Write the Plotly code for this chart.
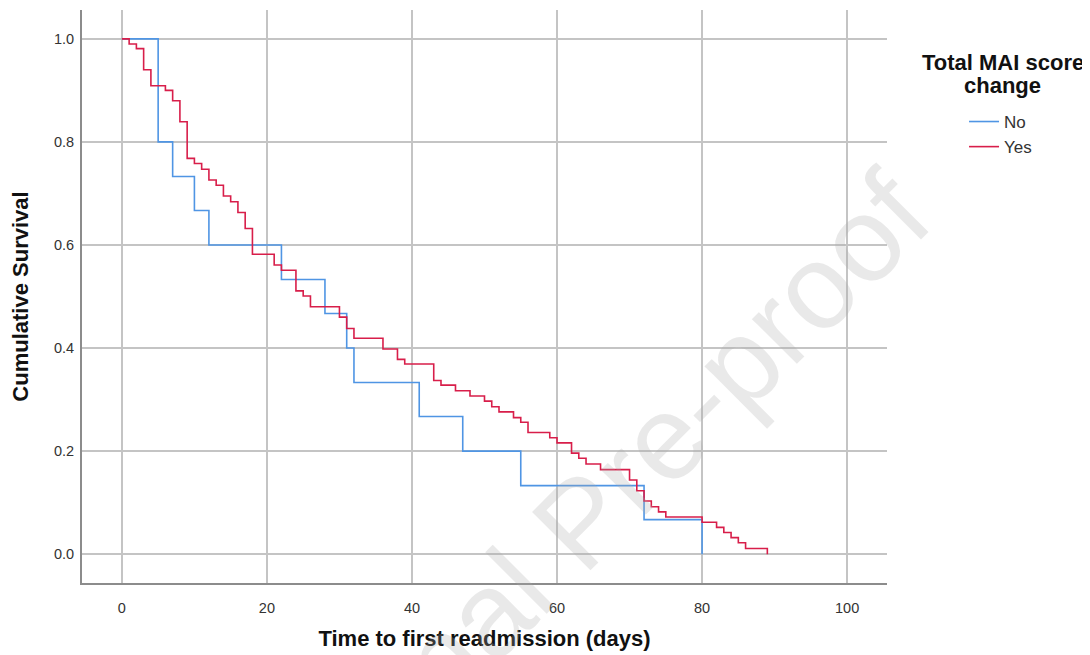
import plotly.graph_objects as go

# Kaplan-Meier step data
no_days = [0, 5, 7, 10, 12, 22, 28, 31, 32, 41, 47, 55, 72, 80]
no_surv = [1.0, 0.800, 0.733, 0.667, 0.600, 0.533, 0.467, 0.400, 0.333, 0.267, 0.200, 0.133, 0.067, 0.0]

yes_days = [0, 1, 2, 3, 4, 6, 7, 8, 9, 10, 11, 12, 13, 14, 15, 16, 17, 18, 21, 22,
            24, 25, 26, 30, 31, 32, 36, 38, 39, 43, 44, 46, 48, 50, 51, 52, 54, 55,
            56, 59, 60, 62, 63, 64, 66, 70, 71, 72, 73, 74, 75, 80, 82, 83, 84, 85, 86, 89]
yes_surv = [1.0, 0.990, 0.981, 0.940, 0.909, 0.900, 0.880, 0.839, 0.768, 0.758, 0.747,
            0.726, 0.716, 0.695, 0.684, 0.663, 0.632, 0.582, 0.561, 0.551,
            0.511, 0.501, 0.480, 0.460, 0.438, 0.419, 0.398, 0.378, 0.369, 0.337,
            0.328, 0.317, 0.307, 0.297, 0.286, 0.276, 0.265, 0.256,
            0.236, 0.226, 0.216, 0.196, 0.186, 0.175, 0.164, 0.144, 0.123, 0.103,
            0.092, 0.082, 0.072, 0.062, 0.052, 0.042, 0.032, 0.022, 0.011, 0.0]

x_ticks = [0, 20, 40, 60, 80, 100]
y_ticks = [0.0, 0.2, 0.4, 0.6, 0.8, 1.0]

legend_title_lines = ["Total MAI score", "change"]

FONT = "Liberation Sans, Arial, sans-serif"
BLUE = "#4f95e4"
RED = "#d81e4a"

fig = go.Figure()
fig.add_trace(go.Scatter(x=no_days, y=no_surv, mode="lines", name="No",
                         line=dict(shape="hv", color=BLUE, width=1.6)))
fig.add_trace(go.Scatter(x=yes_days, y=yes_surv, mode="lines", name="Yes",
                         line=dict(shape="hv", color=RED, width=1.6)))

# page body has an 8px margin, so the figure is sized/offset to compensate
fig.update_layout(
    width=1082, height=647,
    margin=dict(l=74, r=203, t=2, b=72),
    paper_bgcolor="white", plot_bgcolor="white",
    font=dict(family=FONT, color="#333333"),
    showlegend=True,
    legend=dict(x=1.0957, y=0.836, xanchor="left", yanchor="top",
                font=dict(size=17, color="#333333", family=FONT),
                bgcolor="rgba(0,0,0,0)", tracegroupgap=0, itemwidth=30),
    xaxis=dict(range=[-5.5, 105.5], tickvals=x_ticks, showgrid=True,
               gridcolor="#c4c4c4", gridwidth=2, zeroline=False,
               showline=True, linecolor="#8c8c8c", linewidth=2,
               tickfont=dict(size=14.5, color="#333333"), ticks="",
               ticklabelstandoff=11,
               title=dict(text="<b>Time to first readmission (days)</b>",
                          font=dict(size=22, color="#111111"), standoff=15)),
    yaxis=dict(range=[-0.056, 1.056], tickvals=y_ticks, tickformat=".1f",
               showgrid=True, gridcolor="#c4c4c4", gridwidth=2, zeroline=False,
               showline=True, linecolor="#8c8c8c", linewidth=2,
               tickfont=dict(size=14.5, color="#333333"), ticks="",
               ticklabelstandoff=3,
               title=dict(text="<b>Cumulative Survival</b>",
                          font=dict(size=22, color="#111111"), standoff=19)),
    annotations=[
        dict(text="<b>%s</b>" % legend_title_lines[0], x=1.144, y=0.908,
             xref="paper", yref="paper", xanchor="center", yanchor="middle",
             showarrow=False, font=dict(size=22, color="#111111", family=FONT)),
        dict(text="<b>%s</b>" % legend_title_lines[1], x=1.144, y=0.868,
             xref="paper", yref="paper", xanchor="center", yanchor="middle",
             showarrow=False, font=dict(size=22, color="#111111", family=FONT)),
        dict(text="Journal Pre-proof", x=0.619, y=0.108, xref="paper", yref="paper",
             xanchor="center", yanchor="middle", showarrow=False, textangle=-45,
             font=dict(size=120, color="rgba(170,170,170,0.26)", family=FONT)),
    ],
)

fig.write_html("out.html")
